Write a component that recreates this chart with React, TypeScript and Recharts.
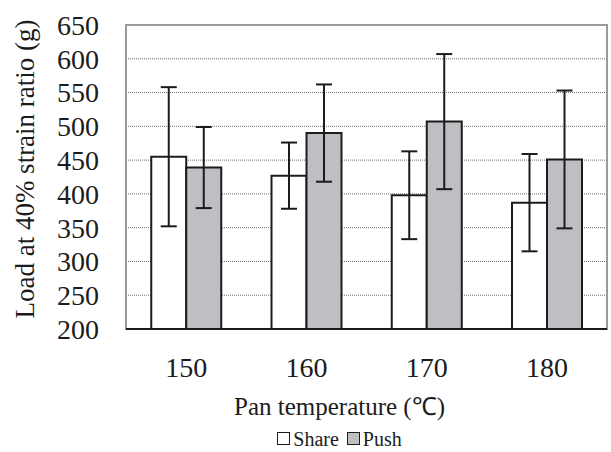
import * as React from 'react';
import {
  BarChart,
  Bar,
  XAxis,
  YAxis,
  CartesianGrid,
  ErrorBar,
  Legend,
  ReferenceArea,
} from 'recharts';

const temps = ['150', '160', '170', '180'];
const shareLoad = [455, 427, 398, 387];
const shareErr = [103, 49, 65, 72];
const pushLoad = [439, 490, 507, 451];
const pushErr = [60, 72, 100, 102];
const yTicks = [200, 250, 300, 350, 400, 450, 500, 550, 600, 650];

const SERIF = '"Liberation Serif", Tinos, "Times New Roman"';
const INK = '#1c1c1c';
const PUSH_FILL = '#bebfc2';

// force the serif face on every node, including recharts' own text
const FONT_CSS = `#root, #root *, #root svg text, #root svg tspan { font-family: ${SERIF} !important; }`;

const rows = temps.map((t, i) => ({
  temp: t,
  share: shareLoad[i],
  shareErr: shareErr[i],
  push: pushLoad[i],
  pushErr: pushErr[i],
}));

function YTitle(props: any): React.ReactElement {
  const vb = props.viewBox || { x: 0, y: 0, width: 0, height: 0 };
  const cx = 25;
  const cy = vb.y + vb.height / 2 - 8;
  return (
    <text
      x={cx}
      y={cy}
      transform={`rotate(-90, ${cx}, ${cy})`}
      textAnchor="middle"
      dominantBaseline="central"
      fontFamily={SERIF}
      fontSize={27}
      fill={INK}
    >
      Load at 40% strain ratio (g)
    </text>
  );
}

function XTitle(props: any): React.ReactElement {
  const vb = props.viewBox || { x: 0, y: 0, width: 0, height: 0 };
  return (
    <text
      x={vb.x + vb.width / 2 - 27}
      y={vb.y + 77}
      textAnchor="middle"
      dominantBaseline="central"
      fontFamily={SERIF}
      fontSize={25}
      fill={INK}
    >
      Pan temperature (℃)
    </text>
  );
}

function LegendBox(): React.ReactElement {
  const item = (label: string, fill: string) => (
    <span style={{ display: 'inline-flex', alignItems: 'center', marginRight: 8 }}>
      <span
        style={{
          display: 'inline-block',
          width: 11,
          height: 11,
          background: fill,
          border: `1.5px solid ${INK}`,
          marginRight: 3,
        }}
      />
      {label}
    </span>
  );
  return (
    <div
      style={{
        textAlign: 'center',
        fontFamily: SERIF,
        fontSize: 20,
        color: INK,
        paddingLeft: 80,
        lineHeight: '28px',
      }}
    >
      {item('Share', '#ffffff')}
      {item('Push', PUSH_FILL)}
    </div>
  );
}

const tickStyle = { fill: INK, fontSize: 28, fontFamily: SERIF };

export default function App(): React.ReactElement {
  return (
    <div style={{ position: 'absolute', left: 0, top: 0, width: 611, height: 452, background: '#fff' }}>
      <style>{FONT_CSS}</style>
      <BarChart
        width={611}
        height={452}
        data={rows}
        margin={{ top: 25, right: 4, bottom: 0, left: 0 }}
        barCategoryGap="21%"
        barGap={0}
      >
        <ReferenceArea y1={200} y2={650} fill="none" stroke="#9a9a9a" strokeWidth={2} />
        <CartesianGrid vertical={false} stroke="#6e6e6e" strokeDasharray="1 1" />
        <XAxis
          dataKey="temp"
          height={95}
          tickSize={0}
          tickMargin={28}
          tickLine={false}
          axisLine={{ stroke: INK, strokeWidth: 2 }}
          tick={tickStyle}
          label={<XTitle />}
        />
        <YAxis
          domain={[200, 650]}
          ticks={yTicks}
          width={126}
          tickSize={0}
          tickMargin={27}
          tickLine={false}
          axisLine={false}
          interval={0}
          tick={tickStyle}
          label={<YTitle />}
        />
        <Legend verticalAlign="bottom" height={28} content={<LegendBox />} />
        <Bar dataKey="share" name="Share" fill="#ffffff" stroke={INK} strokeWidth={2} isAnimationActive={false}>
          <ErrorBar dataKey="shareErr" direction="y" width={8} stroke={INK} strokeWidth={2} isAnimationActive={false} />
        </Bar>
        <Bar dataKey="push" name="Push" fill={PUSH_FILL} stroke={INK} strokeWidth={2} isAnimationActive={false}>
          <ErrorBar dataKey="pushErr" direction="y" width={8} stroke={INK} strokeWidth={2} isAnimationActive={false} />
        </Bar>
      </BarChart>
    </div>
  );
}
